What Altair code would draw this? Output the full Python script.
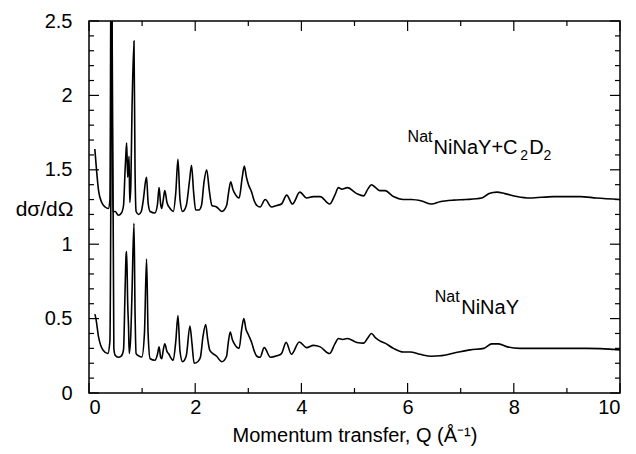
import altair as alt
import pandas as pd

# ---- data ----
q_upper = [0.11, 0.13, 0.18, 0.24, 0.305, 0.365, 0.394, 0.419, 0.448, 0.4925, 0.552, 0.611, 0.650, 0.680,
           0.694, 0.709, 0.729, 0.754, 0.768, 0.788, 0.808, 0.847, 0.867, 0.887, 0.936, 0.985, 1.024,
           1.064, 1.084, 1.113, 1.152, 1.241, 1.290, 1.320, 1.349, 1.369, 1.399, 1.428, 1.468, 1.527,
           1.586, 1.635, 1.675, 1.714, 1.763, 1.832, 1.891, 1.931, 1.970, 2.009, 2.069, 2.118, 2.167,
           2.216, 2.266, 2.315, 2.403, 2.502, 2.591, 2.630, 2.669, 2.709, 2.748, 2.827, 2.886, 2.925,
           2.965, 3.004, 3.063, 3.113, 3.162, 3.221, 3.319, 3.438, 3.536, 3.625, 3.723, 3.832, 3.970,
           4.098, 4.226, 4.354, 4.531, 4.630, 4.698, 4.758, 4.866, 5.043, 5.171, 5.250, 5.319, 5.398,
           5.477, 5.575, 5.733, 5.920, 6.077, 6.265, 6.452, 6.609, 6.865, 7.092, 7.397, 7.535, 7.683,
           7.831, 8.057, 8.304, 8.747, 9.249, 9.555, 10.0]
i_upper = [1.64, 1.55, 1.36, 1.28, 1.25, 1.24, 1.30, 3.20, 1.22, 1.22, 1.195, 1.21, 1.26, 1.50, 1.60,
           1.68, 1.45, 1.59, 1.28, 1.40, 1.86, 2.365, 1.50, 1.22, 1.20, 1.22, 1.30, 1.42, 1.45, 1.28,
           1.22, 1.21, 1.27, 1.38, 1.27, 1.24, 1.30, 1.36, 1.28, 1.24, 1.22, 1.35, 1.57, 1.30, 1.22,
           1.26, 1.42, 1.53, 1.35, 1.23, 1.23, 1.26, 1.42, 1.50, 1.36, 1.26, 1.25, 1.22, 1.26, 1.35,
           1.42, 1.37, 1.34, 1.31, 1.45, 1.525, 1.45, 1.40, 1.35, 1.29, 1.26, 1.25, 1.30, 1.25, 1.26,
           1.27, 1.33, 1.27, 1.35, 1.31, 1.32, 1.32, 1.27, 1.33, 1.38, 1.37, 1.38, 1.34, 1.325, 1.37,
           1.40, 1.38, 1.36, 1.36, 1.32, 1.30, 1.30, 1.29, 1.27, 1.285, 1.296, 1.30, 1.31, 1.34, 1.35,
           1.34, 1.32, 1.31, 1.32, 1.32, 1.31, 1.30]

q_lower = [0.11, 0.13, 0.18, 0.266, 0.355, 0.394, 0.433, 0.468, 0.4925, 0.552, 0.611, 0.650, 0.680,
           0.699, 0.709, 0.729, 0.744, 0.758, 0.788, 0.808, 0.847, 0.867, 0.887, 0.936, 0.995, 1.044,
           1.084, 1.113, 1.152, 1.241, 1.290, 1.320, 1.349, 1.369, 1.399, 1.428, 1.468, 1.497, 1.586,
           1.635, 1.675, 1.714, 1.763, 1.832, 1.901, 1.940, 1.980, 2.049, 2.098, 2.147, 2.197, 2.236,
           2.275, 2.403, 2.502, 2.591, 2.620, 2.660, 2.699, 2.738, 2.827, 2.876, 2.916, 2.955, 3.004,
           3.063, 3.113, 3.162, 3.221, 3.300, 3.418, 3.536, 3.625, 3.713, 3.812, 3.960, 4.098, 4.226,
           4.354, 4.531, 4.630, 4.698, 4.777, 4.866, 5.043, 5.171, 5.250, 5.319, 5.398, 5.477, 5.575,
           5.733, 5.920, 6.048, 6.235, 6.452, 6.609, 6.895, 7.181, 7.437, 7.585, 7.713, 7.880, 8.116,
           8.471, 8.865, 9.358, 10.0]
i_lower = [0.53, 0.50, 0.377, 0.287, 0.265, 0.35, 2.60, 0.30, 0.254, 0.24, 0.25, 0.29, 0.70, 0.93, 0.95,
           0.60, 0.45, 0.265, 0.40, 0.646, 1.14, 0.55, 0.265, 0.25, 0.242, 0.40, 0.90, 0.40, 0.23, 0.22,
           0.26, 0.31, 0.24, 0.23, 0.29, 0.33, 0.28, 0.265, 0.22, 0.35, 0.52, 0.28, 0.21, 0.25, 0.45,
           0.33, 0.20, 0.21, 0.24, 0.38, 0.46, 0.36, 0.287, 0.247, 0.21, 0.247, 0.33, 0.41, 0.36, 0.33,
           0.30, 0.43, 0.50, 0.43, 0.39, 0.34, 0.28, 0.247, 0.24, 0.305, 0.24, 0.25, 0.265, 0.34, 0.26,
           0.343, 0.305, 0.32, 0.31, 0.265, 0.33, 0.366, 0.36, 0.366, 0.34, 0.335, 0.37, 0.40, 0.37, 0.35,
           0.335, 0.30, 0.276, 0.276, 0.26, 0.247, 0.25, 0.27, 0.29, 0.30, 0.33, 0.33, 0.31, 0.30, 0.30,
           0.30, 0.30, 0.29]

x_major = [0, 2, 4, 6, 8, 10]
x_minor = [1, 3, 5, 7, 9]
y_major = [0, 0.5, 1, 1.5, 2, 2.5]
y_minor = [0.1, 0.2, 0.3, 0.4, 0.6, 0.7, 0.8, 0.9, 1.1, 1.2, 1.3, 1.4, 1.6, 1.7, 1.8, 1.9,
           2.1, 2.2, 2.3, 2.4]

ann_text = ["Nat", "NiNaY+C", "2", "D", "2", "Nat", "NiNaY"]
ann_q = [6.00, 6.49, 8.12, 8.29, 8.56, 6.51, 7.01]
ann_y = [1.686, 1.605, 1.565, 1.605, 1.565, 0.61, 0.534]
ann_fs = [16, 20, 14, 20, 14, 16, 20]

# ---- chart ----
W, H = 531, 372
FONT = "Liberation Sans"
xs = alt.Scale(domain=[0, 10], nice=False, zero=False)
ys = alt.Scale(domain=[0, 2.5], nice=False, zero=False)

df = pd.DataFrame({
    "Q": q_upper + q_lower,
    "I": i_upper + i_lower,
    "series": ["upper"] * len(q_upper) + ["lower"] * len(q_lower),
})

x_axis = alt.Axis(values=x_major, format="~r", ticks=False, tickSize=0, domain=False, grid=False,
                  labelFont=FONT, labelFontSize=20, labelPadding=4, labelColor="black",
                  title="Momentum transfer, Q (Å⁻¹)", titleFont=FONT, titleFontSize=20,
                  titleFontWeight="normal", titleColor="black", titlePadding=8)
y_axis = alt.Axis(values=y_major, format="~r", ticks=False, tickSize=0, domain=False, grid=False,
                  labelFont=FONT, labelFontSize=20, labelPadding=17, labelColor="black",
                  title="dσ/dΩ", titleFont=FONT, titleFontSize=21, titleFontWeight="normal",
                  titleColor="black", titleAngle=0, titleX=-16, titleY=188,
                  titleAlign="right", titleBaseline="middle")

lines = alt.Chart(df).mark_line(color="black", strokeWidth=1.6, clip=True,
                                interpolate="monotone").encode(
    x=alt.X("Q:Q", scale=xs, axis=x_axis),
    y=alt.Y("I:Q", scale=ys, axis=y_axis),
    detail="series:N",
)

def xticks(vals, length):
    d = pd.DataFrame({"v": vals})
    bottom = alt.Chart(d).mark_rule(color="black", strokeWidth=1.2).encode(
        x=alt.X("v:Q", scale=xs, axis=x_axis), y=alt.value(H), y2=alt.value(H - length))
    top = alt.Chart(d).mark_rule(color="black", strokeWidth=1.2).encode(
        x=alt.X("v:Q", scale=xs, axis=x_axis), y=alt.value(0), y2=alt.value(length))
    return bottom + top

def yticks(vals, length):
    d = pd.DataFrame({"v": vals})
    left = alt.Chart(d).mark_rule(color="black", strokeWidth=1.2).encode(
        y=alt.Y("v:Q", scale=ys, axis=y_axis), x=alt.value(0), x2=alt.value(length))
    right = alt.Chart(d).mark_rule(color="black", strokeWidth=1.2).encode(
        y=alt.Y("v:Q", scale=ys, axis=y_axis), x=alt.value(W), x2=alt.value(W - length))
    return left + right

ann = pd.DataFrame({"t": ann_text, "q": ann_q, "y": ann_y, "fs": ann_fs})
texts = alt.Chart(ann).mark_text(align="left", baseline="alphabetic", font=FONT, color="black").encode(
    x=alt.X("q:Q", scale=xs, axis=x_axis),
    y=alt.Y("y:Q", scale=ys, axis=y_axis),
    text="t:N",
    size=alt.Size("fs:Q", scale=None, legend=None),
)

chart = alt.layer(
    lines, xticks(x_major, 10), xticks(x_minor, 5), yticks(y_major, 10), yticks(y_minor, 5), texts
).properties(
    width=W, height=H,
    autosize=alt.AutoSizeParams(type="none"),
    padding={"left": 89, "top": 21, "right": 16, "bottom": 61},
).configure_view(stroke="black", strokeWidth=1.5)

chart.save("out.html", embed_options={"renderer": "svg", "actions": False})
